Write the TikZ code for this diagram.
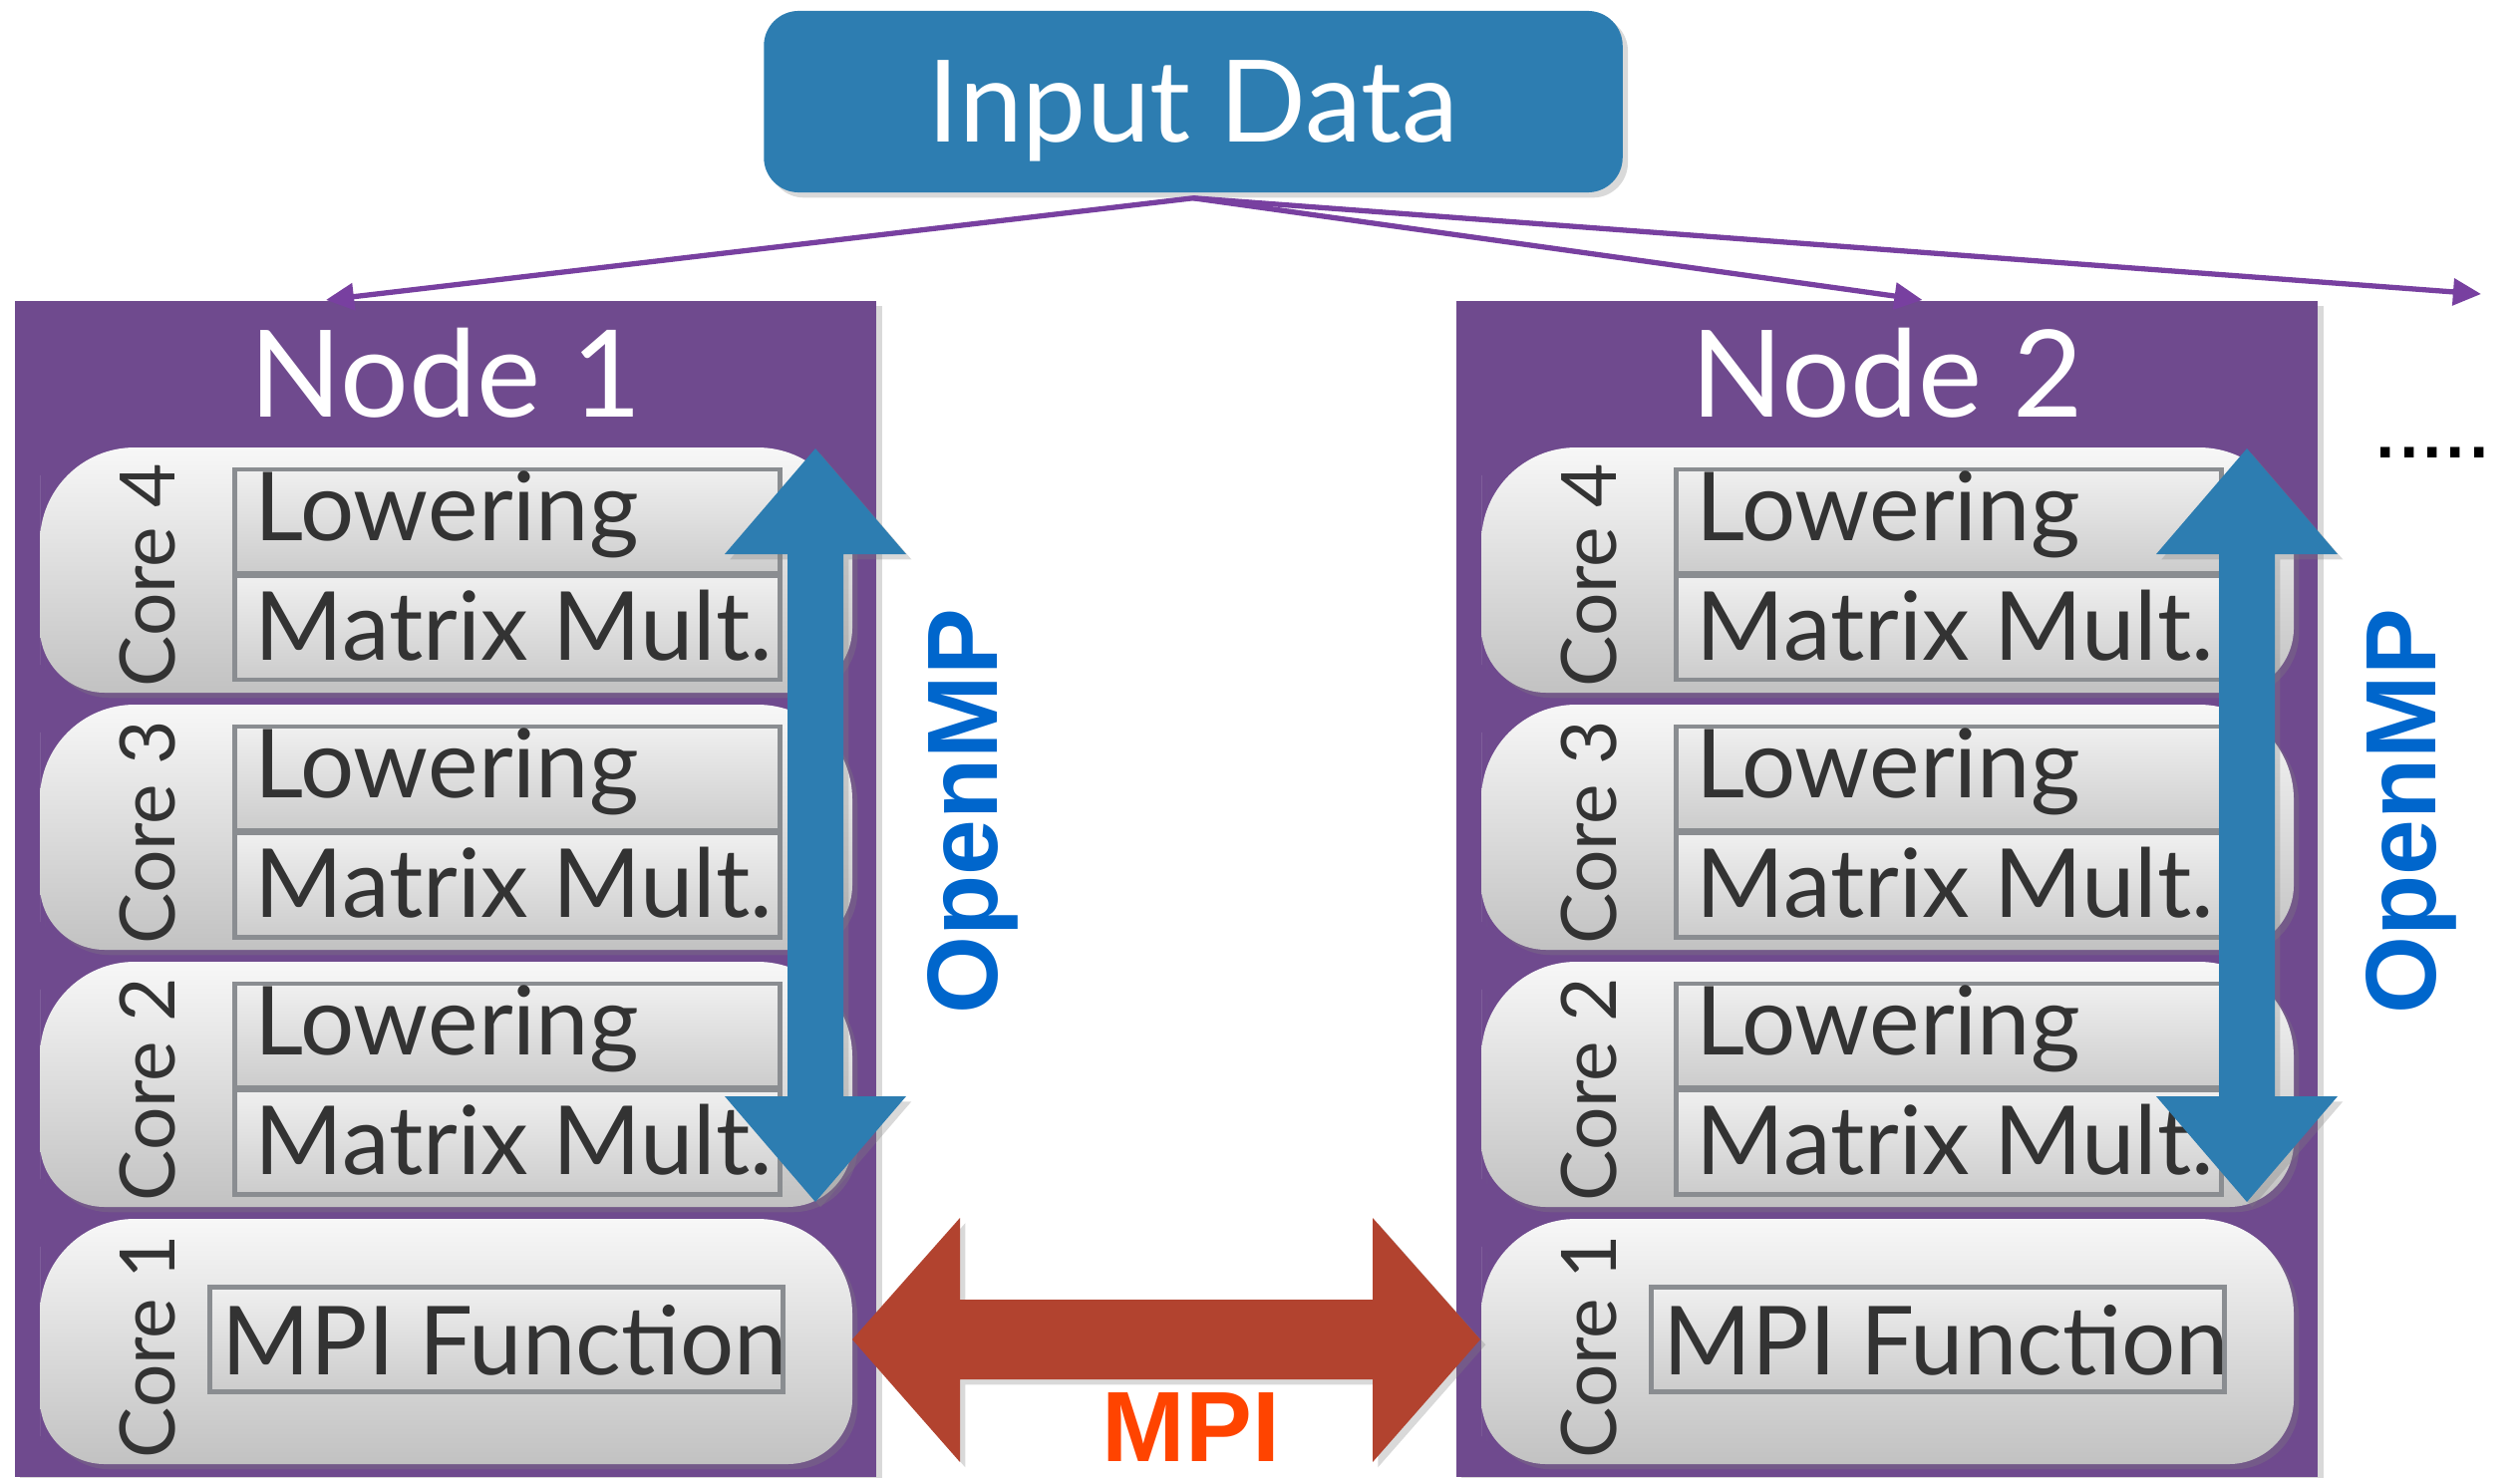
\documentclass[tikz,border=0pt]{standalone}
\usepackage{fontspec}
\setmainfont{Lato}
\newfontfamily\headfont{Liberation Sans}
\usetikzlibrary{arrows.meta,shadows}

\definecolor{inputblue}{HTML}{2D7DB1}
\definecolor{nodepurple}{HTML}{6F4A8E}
\definecolor{linkpurple}{HTML}{7840A0}
\definecolor{ompblue}{HTML}{0066CC}
\definecolor{mpired}{HTML}{B2432F}
\definecolor{mpiorange}{HTML}{FF4400}
\definecolor{boxgray}{HTML}{8A8D91}
\definecolor{textgray}{HTML}{333333}

\newcommand{\moredot}{\makebox[6.65pt]{.}}

\tikzset{
  softshadow/.style={drop shadow={opacity=0.3, shadow xshift=1.5pt, shadow yshift=-1.5pt}},
  inputbox/.style={fill=inputblue, rounded corners=0.35cm, minimum width=8.61cm,
    minimum height=1.82cm, text depth=0pt, text=white, softshadow,
    font=\fontsize{32.5}{34}\selectfont},
  nodebox/.style={fill=nodepurple, minimum width=8.64cm, minimum height=11.8cm,
    inner sep=0pt, softshadow},
  nodetitle/.style={anchor=base, inner sep=0pt, text=white,
    font=\fontsize{34.5}{36}\selectfont},
  corebox/.style={top color=white!97!black, bottom color=white!76!black, softshadow},
  corelabel/.style={anchor=base, rotate=90, inner sep=0pt, text=textgray,
    font=\fontsize{21.8}{24}\selectfont},
  taskbox/.style={draw=boxgray, line width=1.4pt, top color=white!94!black,
    bottom color=white!80!black, minimum width=5.46cm, minimum height=1.04cm,
    inner sep=0pt},
  tasktext/.style={anchor=base west, inner sep=0pt, text=textgray,
    font=\fontsize{27.2}{28}\selectfont},
  link/.style={draw=linkpurple, line width=1.5pt, -{Triangle[length=8pt,width=7.5pt]}},
  bigarrow/.style={fill=inputblue, softshadow},
  omptext/.style={anchor=base, rotate=90, inner sep=0pt, text=ompblue,
    font=\headfont\bfseries\fontsize{28.5}{30}\selectfont},
  mpiarrow/.style={fill=mpired, softshadow},
  mpitext/.style={anchor=base, inner sep=0pt, text=mpiorange,
    font=\headfont\bfseries\fontsize{28.5}{30}\selectfont},
  moretext/.style={anchor=base, inner sep=0pt, font=\headfont\fontsize{28}{30}\selectfont}
}

\begin{document}
\begin{tikzpicture}[x=0.01cm, y=-0.01cm]
  \useasboundingbox (0,0) rectangle (2528,1482);

  % input data
  \node[inputbox] (input) at (1197,102) {Input Data};
  \coordinate (src) at ([yshift=-0.05cm]input.south);
  \coordinate (more) at (2489,295);

  % compute nodes
  \foreach \n/\dx/\ax/\tx in {1/0/818/1000, 2/1446/808/997} {
    \begin{scope}[xshift=\dx*0.01cm]
      \node[nodebox] (node\n) at (447,892) {};
      \node[nodetitle] (title\n) at (447,418) {Node \n};
      \foreach \c/\t in {4/449, 3/707, 2/965, 1/1223} {
        \path[corebox] (40,\t+123) [rounded corners=0.95cm] -- (40,\t) -- (855,\t)
          [rounded corners=0.65cm] -- (855,\t+246) -- (40,\t+246)
          [rounded corners=0.95cm] -- cycle;
        \node[corelabel] (core\n\c) at (175,\t+128) {Core \c};
      }
      \foreach \c/\t in {4/449, 3/707, 2/965} {
        \node[taskbox] (low\n\c) at (509,\t+74) {};
        \node[tasktext] (lowtext\n\c) at (255,\t+93) {Lowering};
        \node[taskbox] (mm\n\c) at (509,\t+181) {};
        \node[tasktext] (mmtext\n\c) at (255,\t+213) {Matrix Mult.};
      }
      \node[taskbox, minimum width=5.75cm, minimum height=1.05cm] (mpibox\n) at (498,1344) {};
      \node[tasktext] (mpifun\n) at (222,1379) {MPI Function};
      % openmp arrow
      \path[bigarrow] (\ax,450) -- (\ax+91,556) -- (\ax+28,556) -- (\ax+28,1100)
        -- (\ax+91,1100) -- (\ax,1206) -- (\ax-91,1100) -- (\ax-28,1100)
        -- (\ax-28,556) -- (\ax-91,556) -- cycle;
      \node[omptext] (omp\n) at (\tx,814) {OpenMP};
    \end{scope}
  }

  % data distribution
  \draw[link] (src) -- ([xshift=-1.2cm]node1.north);
  \draw[link] (src) -- ([xshift=0.355cm]node2.north);
  \draw[link] (src) -- (more);
  \node[moretext] (etc) at (2440,459) {\moredot\moredot\moredot\moredot\moredot};

  % mpi exchange
  \path[mpiarrow] (855,1344) -- (963,1222) -- (963,1304) -- (1377,1304) -- (1377,1222)
    -- (1485,1344) -- (1377,1467) -- (1377,1384) -- (963,1384) -- (963,1467) -- cycle;
  \node[mpitext] (mpi) at (1195,1466) {MPI};
\end{tikzpicture}
\end{document}
